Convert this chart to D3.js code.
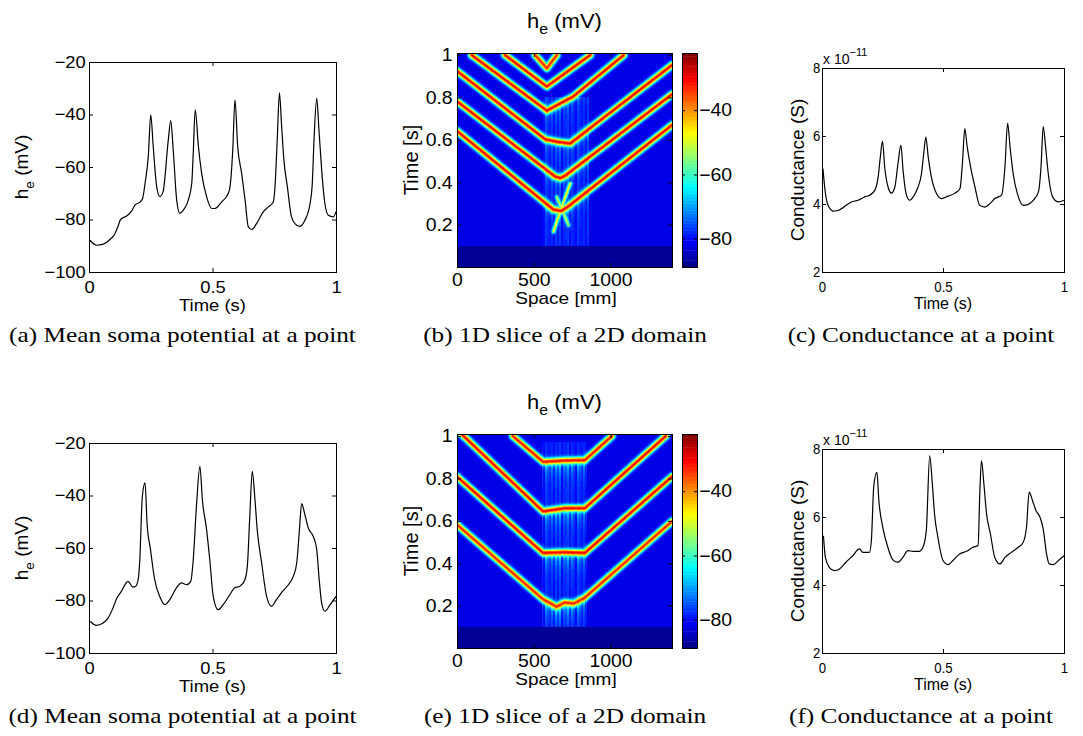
<!DOCTYPE html>
<html>
<head>
<meta charset="utf-8">
<script src="https://cdn.jsdelivr.net/npm/d3@7"></script>
<style>
body { margin: 0; background: #fff; }
svg { display: block; }
</style>
</head>
<body>
<div id="fig"></div>
<script>
// ---- values ----

// (a) mean soma potential, mV
const timeA = [0.004,0.031,0.058,0.085,0.105,0.119,0.128,0.152,0.173,0.186,0.206,0.217,0.227,0.24,0.25,0.26,0.274,0.287,0.30,0.321,0.331,0.341,0.355,0.368,0.382,0.402,0.416,0.422,0.43,0.443,0.456,0.476,0.497,0.51,0.537,0.564,0.571,0.582,0.591,0.602,0.618,0.632,0.645,0.659,0.679,0.706,0.726,0.746,0.753,0.762,0.771,0.78,0.789,0.803,0.82,0.841,0.854,0.874,0.895,0.904,0.911,0.922,0.931,0.942,0.955,0.969,0.989,1.0]
const somaA = [-87.9,-89.8,-89.4,-87.6,-85.4,-82.2,-80,-78.7,-76.7,-74.5,-73.4,-72,-66.2,-56,-40.1,-52.2,-67.5,-71.3,-69.4,-49.7,-42.3,-53.5,-72.6,-77.7,-76.4,-72.6,-66.2,-54.8,-38.2,-52.2,-62.4,-71.3,-75.8,-75.8,-73.3,-70,-67.5,-53.5,-34.4,-52.2,-62.4,-72.6,-82.8,-83.8,-81.5,-77,-75.2,-73.3,-67.5,-49.7,-31.8,-44.6,-57.3,-67.5,-79,-82.2,-82.6,-80.3,-73.9,-66.2,-49.7,-33.8,-45.9,-61.1,-73.9,-78.4,-79,-77]

// (c) conductance, x 1e-11 S
const timeC = [0.004,0.011,0.025,0.046,0.066,0.094,0.121,0.149,0.177,0.197,0.218,0.232,0.241,0.25,0.259,0.273,0.287,0.301,0.314,0.326,0.335,0.349,0.363,0.377,0.397,0.411,0.421,0.429,0.439,0.452,0.473,0.494,0.521,0.549,0.57,0.581,0.59,0.6,0.614,0.632,0.652,0.673,0.694,0.714,0.742,0.756,0.767,0.777,0.79,0.807,0.832,0.852,0.873,0.894,0.905,0.914,0.924,0.935,0.953,0.977,1.0]
const condC = [5.04,4.5,3.96,3.79,3.81,3.93,4.06,4.11,4.21,4.26,4.40,4.79,5.38,5.85,5.09,4.5,4.32,4.5,5.19,5.73,4.99,4.26,4.11,4.21,4.5,4.89,5.53,5.97,5.38,4.79,4.31,4.16,4.23,4.32,4.45,5.28,6.22,5.68,5.09,4.5,3.96,3.91,4.01,4.16,4.26,5.09,6.38,5.68,4.89,4.31,3.96,3.99,4.11,4.35,5.09,6.28,5.68,4.89,4.21,4.06,4.11]

// (d) mean soma potential, mV
const timeD = [0.005,0.03,0.057,0.077,0.097,0.111,0.131,0.158,0.178,0.189,0.199,0.205,0.216,0.227,0.235,0.249,0.266,0.286,0.307,0.327,0.354,0.374,0.395,0.412,0.422,0.435,0.449,0.459,0.476,0.489,0.503,0.523,0.543,0.57,0.589,0.611,0.631,0.641,0.651,0.661,0.672,0.681,0.699,0.719,0.739,0.759,0.78,0.807,0.827,0.841,0.851,0.861,0.874,0.888,0.908,0.922,0.932,0.942,0.955,0.976,1.0]
const somaD = [-87.9,-89.5,-88.6,-86.7,-82.9,-79.4,-76.5,-72.7,-74.9,-74.6,-72.1,-65.7,-40.3,-35.2,-50.5,-60.6,-72.1,-78.4,-81.6,-79.7,-75.2,-73.3,-74,-72.7,-64.5,-44.1,-28.9,-41.6,-53,-64.5,-78.4,-83.5,-81.6,-77.8,-75.2,-74.6,-72.1,-67,-47.9,-30.8,-41.6,-53,-65.7,-78.4,-82.2,-79.7,-76.9,-74,-70.8,-65.7,-54.3,-43.1,-47.3,-52.4,-55.6,-60.6,-72.1,-81,-84.1,-81.6,-78.4]

// (f) conductance, x 1e-11 S
const timeF = [0.006,0.014,0.03,0.051,0.072,0.099,0.127,0.155,0.169,0.182,0.196,0.204,0.214,0.227,0.235,0.251,0.272,0.293,0.314,0.334,0.355,0.376,0.401,0.417,0.431,0.445,0.456,0.465,0.479,0.5,0.521,0.541,0.569,0.597,0.624,0.645,0.652,0.659,0.669,0.68,0.696,0.714,0.735,0.756,0.783,0.811,0.831,0.845,0.856,0.87,0.884,0.901,0.914,0.928,0.939,0.956,0.977,1.0]
const condF = [5.45,4.81,4.52,4.42,4.47,4.67,4.86,5.06,4.96,4.96,4.96,5.3,6.92,7.31,6.48,5.70,5.11,4.74,4.67,4.81,5.01,4.99,4.99,5.11,5.6,7.8,6.97,6.09,5.4,4.72,4.6,4.72,4.91,4.99,5.11,5.16,6.68,7.66,6.97,6.09,5.5,4.81,4.62,4.81,4.96,5.11,5.25,5.7,6.73,6.48,6.19,5.99,5.65,4.91,4.62,4.6,4.72,4.86]

// (b) wave fronts in the space-time map: [space mm, time s]
const frontsB = [
  [[0,0.642],[628,0.271],[680,0.265],[726,0.287],[1400,0.67]],
  [[0,0.782],[639,0.427],[675,0.42],[704,0.431],[1400,0.815]],
  [[0,0.925],[574,0.603],[660,0.59],[737,0.583],[1400,0.953]],
  [[96,1.0],[585,0.738],[757,0.805],[1085,1.0]],
  [[313,1.0],[585,0.852],[867,1.0]],
  [[509,1.0],[585,0.938],[650,1.0]],
  [[628,0.167],[682,0.284],[737,0.393]],
  [[726,0.198],[650,0.33]]
]
const peaksB = [-31,-31,-31,-31,-31,-33,-48,-52]     // mV at the front
const columnB = [560, 860, 0.8]                        // active strip: from mm, to mm, up to s

// (e) wave fronts
const frontsE = [
  [[0,0.582],[560,0.23],[600,0.215],[648,0.195],[700,0.215],[760,0.21],[833,0.238],[1400,0.598]],
  [[0,0.809],[560,0.449],[700,0.452],[833,0.449],[1400,0.809]],
  [[0,1.03],[560,0.645],[700,0.66],[833,0.66],[1359,1.0]],
  [[364,1.0],[560,0.879],[700,0.885],[833,0.887],[1008,1.0]]
]
const peaksE = [-33,-31,-31,-32]
const columnE = [555, 845, 0.97]

const restPotential = -82
const quietPotential = -87.5
const quietUntil = 0.097
const barRange = [-88.8, -22.2]

const xTicksTime = [0, 0.5, 1]
const yTicksSoma = [-100, -80, -60, -40, -20]
const yTicksCond = [2, 4, 6, 8]
const xTicksSpace = [0, 500, 1000]
const yTicksMap = [0.2, 0.4, 0.6, 0.8, 1]
const barTicks = [-80, -60, -40]
const captions = [
  ['(a) Mean soma potential at a point', '(b) 1D slice of a 2D domain', '(c) Conductance at a point'],
  ['(d) Mean soma potential at a point', '(e) 1D slice of a 2D domain', '(f) Conductance at a point']
]

// ---- drawing ----
const width = 1083, height = 736
const rowShift = 381
const sans = '"Liberation Sans", Arial, Helvetica, sans-serif'
const serif = '"Liberation Serif", "Times New Roman", serif'
const streakPattern = [0.3, 0.9, 0.5, 1, 0.2, 0.7, 0.6, 0.95, 0.35, 0.8, 0.5, 0.15, 0.9, 0.6, 0.4, 0.75]

const svg = d3.select('#fig').append('svg')
  .attr('width', width)
  .attr('height', height)

const fmt = d3.format('~g')

function jet(u) {
  u = Math.max(0, Math.min(0.99999, u))
  const q = (Math.floor(u * 64) + 0.5) / 64
  const c = k => Math.round(255 * Math.max(0, Math.min(1, 1.5 - Math.abs(4 * q - k))))
  return [c(3), c(2), c(1)]
}
const colorU = d3.scaleLinear().domain(barRange).range([0, 1])

function addText(g, x, y, o) {
  let tf = `translate(${x},${y})`
  if (o.sx && o.sx !== 1) tf += ` scale(${o.sx},1)`
  if (o.rotate) tf += ` rotate(${o.rotate})`
  return g.append('text')
    .attr('transform', tf)
    .attr('text-anchor', o.anchor || 'middle')
    .attr('fill', '#000')
    .style('font-family', o.family || sans)
    .style('font-size', o.size + 'px')
}

function withSub(t, base, sub, rest, size) {
  t.append('tspan').text(base)
  t.append('tspan').attr('dy', size * 0.3).style('font-size', (size * 0.72) + 'px').text(sub)
  t.append('tspan').attr('dy', -size * 0.3).text(rest)
}

function styleAxis(sel, size, sx) {
  sel.select('.domain').remove()
  sel.selectAll('line').attr('stroke', '#000')
  sel.selectAll('text')
    .attr('fill', '#000')
    .style('font-family', sans)
    .style('font-size', size + 'px')
  if (sx) sel.selectAll('text').attr('transform', `scale(${sx},1)`)
}

function drawAxes(g, x, y, o) {
  const [xa, xb] = x.range(), [yb, ya] = y.range()
  const tick = 4
  g.append('g').attr('transform', `translate(0,${yb})`)
    .call(d3.axisBottom(x).tickValues(o.xt).tickFormat(fmt).tickSizeInner(-tick).tickSizeOuter(0).tickPadding(o.xpad))
    .call(s => styleAxis(s, o.tickSize, o.sx))
  g.append('g').attr('transform', `translate(0,${ya})`)
    .call(d3.axisTop(x).tickValues(o.xt).tickFormat('').tickSizeInner(-tick).tickSizeOuter(0))
    .call(s => styleAxis(s, o.tickSize))
  g.append('g').attr('transform', `translate(${xa},0)`)
    .call(d3.axisLeft(y).tickValues(o.yt).tickFormat(fmt).tickSizeInner(-tick).tickSizeOuter(0).tickPadding(o.ypad))
    .call(s => styleAxis(s, o.tickSize, o.sx))
  g.append('g').attr('transform', `translate(${xb},0)`)
    .call(d3.axisRight(y).tickValues(o.yt).tickFormat('').tickSizeInner(-tick).tickSizeOuter(0))
    .call(s => styleAxis(s, o.tickSize))
  g.append('rect')
    .attr('x', xa + 0.5).attr('y', ya + 0.5)
    .attr('width', xb - xa).attr('height', yb - ya)
    .attr('fill', 'none').attr('stroke', '#000').attr('stroke-width', 1)
}

function linePanel(box, times, vals, yDomain, yTicks, st) {
  const g = svg.append('g')
  const x = d3.scaleLinear().domain([0, 1]).range([box.x0, box.x1])
  const y = d3.scaleLinear().domain(yDomain).range([box.y1, box.y0])
  const pts = times.map((t, i) => [t, vals[i]])
  g.append('path').datum(pts)
    .attr('fill', 'none')
    .attr('stroke', '#000')
    .attr('stroke-width', 1.2)
    .attr('stroke-linejoin', 'round')
    .attr('d', d3.line().x(d => x(d[0])).y(d => y(d[1])).curve(d3.curveMonotoneX))
  drawAxes(g, x, y, Object.assign({ xt: xTicksTime, yt: yTicks }, st))
  return g
}

function distSeg(px, py, s) {
  const dx = s.bx - s.ax, dy = s.by - s.ay
  let u = ((px - s.ax) * dx + (py - s.ay) * dy) / (dx * dx + dy * dy)
  u = Math.max(0, Math.min(1, u))
  const qx = s.ax + u * dx - px, qy = s.ay + u * dy - py
  return Math.sqrt(qx * qx + qy * qy)
}

function yAt(pts, px) {
  for (let k = 0; k < pts.length - 1; k++) {
    const a = pts[k], b = pts[k + 1]
    if (px >= a[0] && px <= b[0] && b[0] > a[0]) return a[1] + (b[1] - a[1]) * (px - a[0]) / (b[0] - a[0])
  }
  return null
}

function mapPanel(top, fronts, peaks, column, smear) {
  const g = svg.append('g')
  const x = d3.scaleLinear().domain([0, 1400]).range([457, 672])
  const y = d3.scaleLinear().domain([0, 1.01]).range([top + 214, top])
  const x0 = 457, y0 = top, w = 215, h = 214

  const proj = fronts.map(f => f.map(p => [x(p[0]) - x0, y(p[1]) - y0]))
  const segs = []
  proj.forEach((pts, k) => {
    for (let i = 0; i < pts.length - 1; i++) {
      segs.push({ ax: pts[i][0], ay: pts[i][1], bx: pts[i + 1][0], by: pts[i + 1][1],
        peak: peaks[k], sigma: peaks[k] > -40 ? 3.3 : 1.8 })
    }
  })
  const mainFronts = proj.filter((p, k) => peaks[k] > -40 && p.every((q, i) => i === 0 || q[0] >= p[i - 1][0]))

  const cv = document.createElement('canvas')
  cv.width = w; cv.height = h
  const ctx = cv.getContext('2d')
  const img = ctx.createImageData(w, h)
  for (let j = 0; j < h; j++) {
    const py = j + 0.5
    const t = y.invert(y0 + py)
    for (let i = 0; i < w; i++) {
      const px = i + 0.5
      const mm = x.invert(x0 + px)
      const streak = streakPattern[Math.floor(i / 2) % streakPattern.length]
      let base = t < quietUntil ? quietPotential : restPotential
      if (mm > column[0] && mm < column[1] && t >= quietUntil && t < column[2]) {
        base = -81 + 4 * streak
        for (const f of mainFronts) {
          const yf = yAt(f, px)
          if (yf == null) continue
          const dy = py - yf
          if (dy > 0 && dy < 45) base += smear * streak * Math.exp(-dy / 10)
        }
      }
      let v = base
      for (const s of segs) {
        const d = distSeg(px, py, s)
        if (d < 12) {
          const f = Math.exp(-(d * d) / (s.sigma * s.sigma))
          v = Math.max(v, base + (s.peak - base) * f)
        }
      }
      const c = jet(colorU(v))
      const o = (j * w + i) * 4
      img.data[o] = c[0]; img.data[o + 1] = c[1]; img.data[o + 2] = c[2]; img.data[o + 3] = 255
    }
  }
  ctx.putImageData(img, 0, 0)
  g.append('image')
    .attr('x', x0).attr('y', y0)
    .attr('width', w).attr('height', h)
    .attr('preserveAspectRatio', 'none')
    .attr('href', cv.toDataURL())

  drawAxes(g, x, y, { xt: xTicksSpace, yt: yTicksMap, tickSize: 18, sx: 1.08, xpad: 6, ypad: 4 })

  // colour bar
  const yb = d3.scaleLinear().domain(barRange).range([top + 214, top])
  const step = (barRange[1] - barRange[0]) / 64
  g.selectAll('rect.cb').data(d3.range(64)).join('rect')
    .attr('class', 'cb')
    .attr('x', 682).attr('width', 15)
    .attr('y', k => yb(barRange[0] + (k + 1) * step))
    .attr('height', k => yb(barRange[0] + k * step) - yb(barRange[0] + (k + 1) * step) + 0.4)
    .attr('fill', k => d3.rgb(...jet((k + 0.5) / 64)))
  g.append('g').attr('transform', 'translate(697,0)')
    .call(d3.axisRight(yb).tickValues(barTicks).tickFormat(fmt).tickSizeInner(-3).tickSizeOuter(0).tickPadding(2))
    .call(s => styleAxis(s, 18, 1.08))
  g.append('g').attr('transform', 'translate(682,0)')
    .call(d3.axisLeft(yb).tickValues(barTicks).tickFormat('').tickSizeInner(-3).tickSizeOuter(0))
    .call(s => styleAxis(s, 18))
  g.append('rect')
    .attr('x', 682.5).attr('y', top + 0.5).attr('width', 15).attr('height', 214)
    .attr('fill', 'none').attr('stroke', '#000')

  // labels
  withSub(addText(g, 564.5, top - 25, { size: 20, sx: 1.1 }), 'h', 'e', ' (mV)', 20)
  addText(g, 566, top + 251, { size: 17, sx: 1.12 }).text('Space [mm]')
  addText(g, 418, top + 107, { size: 20, rotate: -90 }).text('Time [s]')
}

const rows = [
  { soma: [timeA, somaA], cond: [timeC, condC], fronts: frontsB, peaks: peaksB, column: columnB, smear: 8 },
  { soma: [timeD, somaD], cond: [timeF, condF], fronts: frontsE, peaks: peaksE, column: columnE, smear: 18 }
]

rows.forEach((r, ri) => {
  const dy = ri * rowShift

  // soma potential
  const gs = linePanel({ x0: 89, x1: 336, y0: 62 + dy, y1: 272 + dy }, r.soma[0], r.soma[1],
    [-100, -20], yTicksSoma, { tickSize: 17, sx: 1.08, xpad: 9, ypad: 3 })
  addText(gs, 212.5, 311 + dy, { size: 16.5, sx: 1.12 }).text('Time (s)')
  withSub(addText(gs, 28, 167 + dy, { size: 19, rotate: -90 }), 'h', 'e', ' (mV)', 19)

  // space-time map
  mapPanel(53 + dy, r.fronts, r.peaks, r.column, r.smear)

  // conductance
  const gc = linePanel({ x0: 822, x1: 1064, y0: 68 + dy, y1: 272 + dy }, r.cond[0], r.cond[1],
    [2, 8], yTicksCond, { tickSize: 15, sx: 0.88, xpad: 9, ypad: 2 })
  addText(gc, 943, 309 + dy, { size: 16 }).text('Time (s)')
  addText(gc, 804, 170 + dy, { size: 19, rotate: -90 }).text('Conductance (S)')
  const ex = addText(gc, 823, 64 + dy, { size: 14, anchor: 'start' })
  ex.append('tspan').text('x 10')
  ex.append('tspan').attr('dy', -8).style('font-size', '11px').text('\u221211')

  // captions
  const capX = [182.5, 565, 921]
  captions[ri].forEach((c, ci) => {
    addText(svg, capX[ci], 342 + dy, { size: 22, sx: 1.15, family: serif }).text(c)
  })
})
</script>
</body>
</html>
